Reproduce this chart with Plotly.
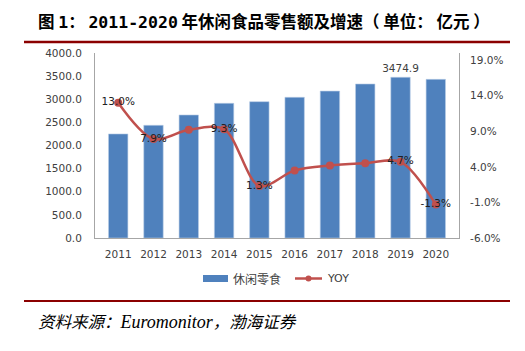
import plotly.graph_objects as go

years = ["2011", "2012", "2013", "2014", "2015", "2016", "2017", "2018", "2019", "2020"]
sales = [2250, 2436, 2660, 2912, 2948, 3042, 3176, 3330, 3474.9, 3430]
yoy = [13.0, 7.9, 9.2, 9.3, 1.3, 3.5, 4.2, 4.5, 4.7, -1.3]
yoy_labels = ["13.0%", "7.9%", "", "9.3%", "1.3%", "", "", "", "4.7%", "-1.3%"]
sales_labels = ["", "", "", "", "", "", "", "", "3474.9", ""]
left_ticks = [0, 500, 1000, 1500, 2000, 2500, 3000, 3500, 4000]
right_ticks = [-6, -1, 4, 9, 14, 19]

BLUE = "#4F81BD"
RED = "#C0504D"
DARK = "#8B0000"
TXT = "#404040"
FONT = "DejaVu Sans"

# plot area in pixels
L, R, T, B = 95, 459, 53, 238
W, H = R - L, B - T
def px(x):
    return (x - L) / W
def py(y):
    return (B - y) / H

fig = go.Figure()
fig.add_trace(go.Bar(
    x=years, y=sales, name="休闲零食", marker=dict(color=BLUE, line=dict(color="#B9CDE5", width=0.6)),
    text=sales_labels, textposition="outside", cliponaxis=False, constraintext="none", textangle=0,
    textfont=dict(family=FONT, size=10.5, color=TXT), showlegend=False,
))
fig.add_trace(go.Scatter(
    x=years, y=yoy, name="YOY", yaxis="y2", mode="lines+markers+text",
    line=dict(color=RED, width=2.5, shape="spline", smoothing=0.9),
    marker=dict(color=RED, size=8),
    text=yoy_labels, textposition="middle center", cliponaxis=False,
    textfont=dict(family=FONT, size=10.5, color="#202020"), showlegend=False,
))

fig.update_layout(
    width=525, height=351,
    margin=dict(l=L, r=525 - R, t=T, b=351 - B),
    paper_bgcolor="white", plot_bgcolor="white",
    bargap=0.45,
    font=dict(family=FONT, size=10.5, color=TXT),
    xaxis=dict(showline=True, linecolor="#A6A6A6", linewidth=1, ticks="", ticklabelstandoff=6,
               tickfont=dict(family=FONT, size=10.5, color=TXT), showgrid=False),
    yaxis=dict(range=[0, 4000], tickvals=left_ticks, ticktext=[f"{v:.1f}" for v in left_ticks],
               showline=True, linecolor="#A6A6A6", linewidth=1, showgrid=False, zeroline=False,
               ticks="", ticklabelstandoff=10, tickfont=dict(family=FONT, size=10.5, color=TXT)),
    yaxis2=dict(range=[-6, 20], tickvals=right_ticks, ticktext=[f"{v:.1f}%" for v in right_ticks],
                overlaying="y", side="right", showline=True, linecolor="#A6A6A6", linewidth=1,
                showgrid=False, zeroline=False, ticks="", ticklabelstandoff=8,
                tickfont=dict(family=FONT, size=10.5, color=TXT)),
)

shapes = [
    dict(type="line", xref="paper", yref="paper", x0=px(24), x1=px(510), y0=py(42), y1=py(42),
         line=dict(color=DARK, width=2.5)),
    dict(type="line", xref="paper", yref="paper", x0=px(24), x1=px(510), y0=py(301), y1=py(301),
         line=dict(color=DARK, width=2)),
    # legend
    dict(type="rect", xref="paper", yref="paper", x0=px(203), x1=px(228), y0=py(282), y1=py(275),
         fillcolor=BLUE, line=dict(width=0)),
    dict(type="line", xref="paper", yref="paper", x0=px(295), x1=px(322), y0=py(278.5), y1=py(278.5),
         line=dict(color=RED, width=2.5)),
    dict(type="circle", xref="paper", yref="paper", x0=px(305.5), x1=px(311.5), y0=py(281.5), y1=py(275.5),
         fillcolor=RED, line=dict(width=0)),
]
fig.update_layout(shapes=shapes)

mono = '<span style="font-family:DejaVu Sans Mono">'
title = (f"<b>图 {mono}1</span>： {mono}2011-2020</span> 年休闲食品零售额及增速（ 单位： 亿元 ）</b>")
source = ('<i>资料来源：<span style="font-family:Liberation Serif;font-size:18px">Euromonitor</span>，渤海证券</i>')

annotations = [
    dict(text=title, xref="paper", yref="paper",
         x=px(36), y=py(21), xanchor="left", yanchor="middle", showarrow=False,
         font=dict(family="Noto Sans CJK SC", size=16.5, color="black")),
    dict(text="休闲零食", xref="paper", yref="paper", x=px(231), y=py(278.5), xanchor="left", yanchor="middle",
         showarrow=False, font=dict(family="Noto Sans CJK SC", size=12, color=TXT)),
    dict(text="YOY", xref="paper", yref="paper", x=px(325), y=py(278.5), xanchor="left", yanchor="middle",
         showarrow=False, font=dict(family=FONT, size=11, color=TXT)),
    dict(text=source, xref="paper", yref="paper", x=px(36), y=py(321),
         xanchor="left", yanchor="middle", showarrow=False,
         font=dict(family="Noto Sans CJK SC", size=16.5, color="black")),
]
fig.update_layout(annotations=annotations)

fig.write_html("out.html")
